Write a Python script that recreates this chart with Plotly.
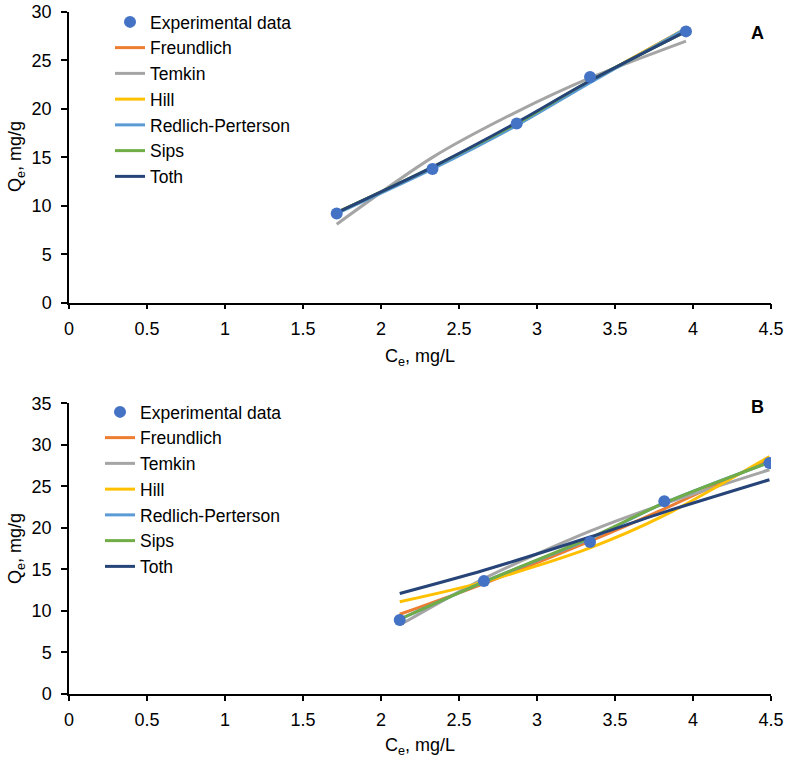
import plotly.graph_objects as go

# ---------------- data ----------------
series_names = ["Freundlich", "Temkin", "Hill", "Redlich-Perterson", "Sips", "Toth"]
series_colors = ["#ED7D31", "#A5A5A5", "#FFC000", "#5B9BD5", "#70AD47", "#264478"]

# Panel A
ce_a = [1.716, 2.33, 2.87, 3.34, 3.955]
qe_a = [9.2, 13.8, 18.5, 23.3, 28.0]
freundlich_a = [9.3, 13.9, 18.4, 22.8, 28.3]
temkin_a = [8.1, 15.0, 19.7, 23.2, 27.0]
hill_a = [9.3, 13.9, 18.4, 22.8, 28.3]
rp_a = [9.2, 13.8, 18.3, 22.7, 28.3]
sips_a = [9.3, 14.0, 18.5, 22.9, 28.0]
toth_a = [9.3, 14.0, 18.6, 22.9, 28.0]

# Panel B
ce_b = [2.12, 2.66, 3.34, 3.816, 4.49]
qe_b = [8.9, 13.6, 18.3, 23.2, 27.8]
freundlich_b = [9.6, 13.3, 18.4, 22.3, 28.2]
temkin_b = [8.3, 13.9, 19.6, 22.9, 27.0]
hill_b = [11.1, 13.5, 17.6, 21.5, 28.6]
rp_b = [9.0, 13.5, 18.7, 23.0, 27.9]
sips_b = [9.0, 13.5, 18.8, 23.0, 27.9]
toth_b = [12.1, 14.9, 18.9, 21.9, 25.8]

x_ticks = [0, 0.5, 1, 1.5, 2, 2.5, 3, 3.5, 4, 4.5]
x_ticklabels = ["0", "0.5", "1", "1.5", "2", "2.5", "3", "3.5", "4", "4.5"]
y_ticks_a = [0, 5, 10, 15, 20, 25, 30]
y_ticks_b = [0, 5, 10, 15, 20, 25, 30, 35]

x_title = "C<sub>e</sub>, mg/L"
y_title = "Q<sub>e</sub>, mg/g"
panel_labels = ["A", "B"]

FONT = "Liberation Sans, Arial, sans-serif"
W, H = 793, 761
ML, MR, MT, MB = 69, 22, 12, 67
PW, PH = W - ML - MR, H - MT - MB


def pxy(py):
    """pixel row -> paper y"""
    return (H - MB - py) / PH


def pxx(px):
    """pixel column -> paper x"""
    return (px - ML) / PW


fig = go.Figure()

panels = [
    ("x", "y", "legend", ce_a, qe_a, [freundlich_a, temkin_a, hill_a, rp_a, sips_a, toth_a]),
    ("x2", "y2", "legend2", ce_b, qe_b, [freundlich_b, temkin_b, hill_b, rp_b, sips_b, toth_b]),
]

for xa, ya, lg, ce, qe, models in panels:
    for i, (name, col, vals) in enumerate(zip(series_names, series_colors, models)):
        fig.add_trace(go.Scatter(
            x=ce, y=vals, mode="lines", name=name,
            line=dict(color=col, width=3, shape="spline", smoothing=0.8),
            xaxis=xa, yaxis=ya, legend=lg, legendrank=i + 2,
        ))
    fig.add_trace(go.Scatter(
        x=ce, y=qe, mode="markers", name="Experimental data",
        marker=dict(color="#4472C4", size=12),
        xaxis=xa, yaxis=ya, legend=lg, legendrank=1,
    ))

axis_common = dict(
    showline=True, linecolor="black", linewidth=1.5,
    ticks="outside", tickcolor="black", tickwidth=1.5,
    showgrid=False, zeroline=False, automargin=False,
    tickfont=dict(family=FONT, size=18, color="black"),
)

xaxis_common = dict(domain=[0, 1], range=[0, 4.5], tickvals=x_ticks, ticktext=x_ticklabels,
                    ticklen=5, ticklabelstandoff=4, **axis_common)

fig.update_layout(
    width=W, height=H,
    paper_bgcolor="white", plot_bgcolor="white",
    margin=dict(l=ML, r=MR, t=MT, b=MB, autoexpand=False),
    font=dict(family=FONT, size=18, color="black"),
    showlegend=True,
    xaxis=dict(anchor="y", **xaxis_common),
    yaxis=dict(domain=[pxy(302.7), 1.0], range=[0, 30], tickvals=y_ticks_a, ticklen=6,
               anchor="x", ticklabelstandoff=6, **axis_common),
    xaxis2=dict(anchor="y2", **xaxis_common),
    yaxis2=dict(domain=[0, pxy(403.3)], range=[0, 35], tickvals=y_ticks_b, ticklen=6,
                anchor="x2", ticklabelstandoff=6, **axis_common),
    legend=dict(xref="container", yref="container",
                x=110 / W, y=1 - 4 / H, xanchor="left", yanchor="top",
                font=dict(family=FONT, size=17.5, color="black"),
                bgcolor="rgba(0,0,0,0)", tracegroupgap=0),
    legend2=dict(xref="container", yref="container",
                 x=100 / W, y=1 - 394 / H, xanchor="left", yanchor="top",
                 font=dict(family=FONT, size=17.5, color="black"),
                 bgcolor="rgba(0,0,0,0)", tracegroupgap=0),
)

# axis titles and panel letters
title_font = dict(family=FONT, size=18, color="black")
for (xc, yc) in [(420, 357), (420, 746)]:
    fig.add_annotation(text=x_title, x=pxx(xc), y=pxy(yc), xref="paper", yref="paper",
                       xanchor="center", yanchor="middle", showarrow=False, font=title_font)
for (xc, yc) in [(16, 157), (16, 549)]:
    fig.add_annotation(text=y_title, x=pxx(xc), y=pxy(yc), xref="paper", yref="paper",
                       textangle=-90, xanchor="center", yanchor="middle",
                       showarrow=False, font=title_font)
for lab, (xc, yc) in zip(panel_labels, [(757, 33), (757, 407)]):
    fig.add_annotation(text="<b>" + lab + "</b>", x=pxx(xc), y=pxy(yc),
                       xref="paper", yref="paper", xanchor="center", yanchor="middle",
                       showarrow=False, font=title_font)

# remove the browser's default 8px page margin so the figure sits at the window corner
fig.write_html("out.html", config={"displayModeBar": False},
               post_script="document.body.style.margin='0';")
